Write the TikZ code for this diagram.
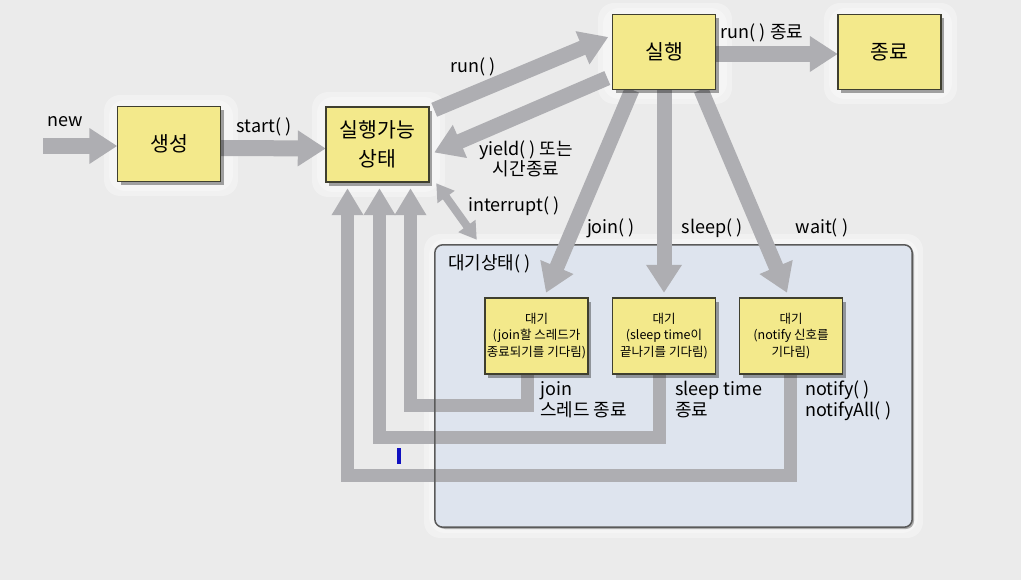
\documentclass[tikz,border=0pt]{standalone}
\usepackage{fontspec}
\setmainfont{Noto Sans CJK KR}
\usetikzlibrary{arrows.meta,shadows,calc}
\definecolor{bg}{HTML}{EBEBEB}
\definecolor{boxfill}{HTML}{F3E98B}
\definecolor{boxline}{HTML}{3F3F2F}
\definecolor{arrowgray}{HTML}{AEAEB2}
\definecolor{regionfill}{HTML}{DEE4EE}
\definecolor{regionline}{HTML}{5A5A5A}
\definecolor{cursorblue}{HTML}{1010C0}
\begin{document}
\begin{tikzpicture}[x=1pt,y=-1pt,
  state/.style={draw=boxline, line width=1.4pt, fill=boxfill, minimum width=103pt, minimum height=75pt, inner sep=0pt, font=\fontsize{20.5}{29}\selectfont, align=center, drop shadow={shadow xshift=3pt, shadow yshift=-4pt, opacity=0.35, fill=black}},
  wstate/.style={state, minimum height=76pt, font=\fontsize{12.5}{16.5}\selectfont},
  lbl/.style={font=\fontsize{18}{19}\selectfont, inner sep=0pt, align=center},
  lbll/.style={font=\fontsize{18}{21}\selectfont, inner sep=0pt, align=left, anchor=north west},
  fat/.style={draw=arrowgray, line width=16pt, -{Triangle[width=34pt,length=28pt]}},
  ret/.style={draw=arrowgray, line width=13pt, line join=miter, -{Triangle[width=30pt,length=27pt]}},
  halo/.style={fill=white, opacity=0.3, rounded corners=16pt},
]
\useasboundingbox (0,0) rectangle (1021,580);
\fill[bg] (0,0) rectangle (1021,580);
% halos
\foreach \d in {0,5}{
\fill[halo] (104+\d,95+\d) rectangle (238-\d,196-\d);
\fill[halo] (312+\d,92+\d) rectangle (445-\d,197-\d);
\fill[halo] (598+\d,3+\d) rectangle (732-\d,104-\d);
\fill[halo] (824+\d,3+\d) rectangle (957-\d,104-\d);
\fill[halo] (424+\d,234+\d) rectangle (923-\d,538-\d);
}
% waiting region
\node[fill=regionfill, rounded corners=8pt, minimum width=477pt, minimum height=282pt, inner sep=0pt, drop shadow={shadow xshift=2pt, shadow yshift=-2pt, opacity=0.3, fill=black}] (region) at (673.5,386) {};
% node placeholders
\path (169,144) coordinate (genc) (377.5,144.5) coordinate (readyc) (664,52) coordinate (runc)
      (889.5,52) coordinate (termc) (536.5,336) coordinate (b1c) (664,336) coordinate (b2c) (791,336) coordinate (b3c);
\path (genc) node[minimum width=103pt, minimum height=75pt] (gen) {}
      (readyc) node[minimum width=103pt, minimum height=75pt] (ready) {}
      (runc) node[minimum width=103pt, minimum height=75pt] (run) {}
      (termc) node[minimum width=103pt, minimum height=75pt] (term) {}
      (b1c) node[minimum width=103pt, minimum height=76pt] (b1) {}
      (b2c) node[minimum width=103pt, minimum height=76pt] (b2) {}
      (b3c) node[minimum width=103pt, minimum height=76pt] (b3) {};
% return paths
\draw[ret] ($(b1.south)+(-9.5,0)$) -- ++(0,31) -| ($(ready.south)+(33,6)$);
\draw[ret] ($(b2.south)+(-5,0)$) -- ++(0,63) -| ($(ready.south)+(2,6)$);
\draw[ret] ($(b3.south)+(-1,0)$) -- ++(0,101) -| ($(ready.south)+(-30,6)$);
\draw[draw=regionline, line width=1.5pt, rounded corners=8pt] (region.north west) rectangle (region.south east);
% arrows
\coordinate (newtail) at (43,146);
\draw[fat] (newtail) -- (gen.west |- newtail);
\draw[fat] ($(gen.east)+(0,4)$) -- ($(ready.west)+(0,4)$);
\draw[fat] ($(run.east)+(0,2)$) -- ($(term.west)+(0,2)$);
\draw[fat, line width=15pt] ($(ready.north east)+(5,3)$) -- ($(run.west)+(-4,-15)$);
\draw[fat, line width=15pt] ($(run.west)+(-5,26)$) -- ($(ready.east)+(5,8)$);
\draw[fat, line width=15pt] ($(run.south)+(-32,0)$) -- ($(b1.north)+(9.5,-5)$);
\draw[fat, line width=15pt] (run.south) -- ($(b2.north)+(0,-5)$);
\draw[fat, line width=15pt] ($(run.south)+(37,0)$) -- ($(b3.north)+(-4,-5)$);
\draw[draw=arrowgray, line width=8pt, {Triangle[width=20pt,length=17pt]}-{Triangle[width=20pt,length=17pt]}] ($(ready.south east)+(7,1)$) -- ($(region.north west)+(42,-5)$);
% boxes
\node[state] at (gen) {생성};
\node[state] at (ready) {실행가능\\상태};
\node[state] at (run) {실행};
\node[state] at (term) {종료};
\node[wstate] at (b1) {대기\\(join할 스레드가\\종료되기를 기다림)};
\node[wstate] at (b2) {대기\\(sleep time이\\끝나기를 기다림)};
\node[wstate] at (b3) {대기\\(notify 신호를\\기다림)};
% labels
\node[lbl] (lnew) at (65,122) {new};
\node[lbl] (lstart) at (264,127) {start( )};
\node[lbl] (lrun) at (473,67) {run( )};
\node[lbl] (lyield) at (526,159) {yield( ) 또는\\시간종료};
\node[lbl] (lend) at (762,33) {run( ) 종료};
\node[lbl] (lint) at (514,206) {interrupt( )};
\node[lbl] (ljoin) at (611,228) {join( )};
\node[lbl] (lsleep) at (712,228) {sleep( )};
\node[lbl] (lwait) at (822,228) {wait( )};
\node[lbl, anchor=west] (lregion) at (448,264) {대기상태( )};
\node[lbll] (lj2) at (540,381) {join\\스레드 종료};
\node[lbll] (ls2) at (675,381) {sleep time\\종료};
\node[lbll] (ln2) at (805,381) {notify( )\\notifyAll( )};
\fill[cursorblue] (397,448) rectangle (401,464);
\end{tikzpicture}
\end{document}
